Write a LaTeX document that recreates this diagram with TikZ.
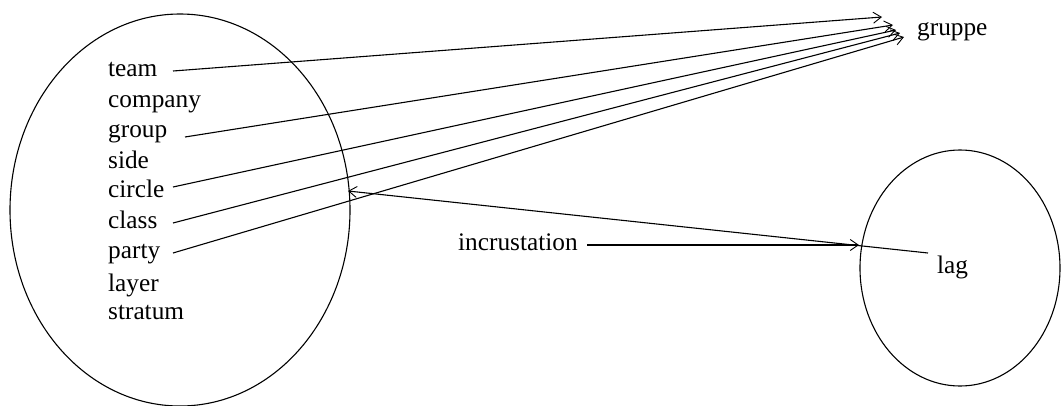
\documentclass[tikz,border=0pt]{standalone}
\usepackage{fontspec}
\setmainfont{Liberation Serif}
\usetikzlibrary{arrows.meta,shapes.geometric}
\begin{document}
\begin{tikzpicture}[x=1pt,y=-1pt,
  lbl/.style={anchor=base west,inner sep=0pt,font=\fontsize{25.3}{29}\selectfont},
  ring/.style={draw,ellipse,line width=1.1pt,inner sep=0pt},
  conn/.style={line width=1.1pt,-{Straight Barb[length=8pt,width=11pt,line width=0.9pt]}}]
\useasboundingbox (0,0) rectangle (1061,405);
% ellipses
\node[ring,minimum width=340pt,minimum height=392pt] (L) at (180,210) {};
\node[ring,minimum width=200pt,minimum height=236pt] (R) at (960,268) {};
% left labels
\node[lbl] (team) at (108,76) {team};
\node[lbl] (company) at (108,107) {company};
\node[lbl] (group) at (108,137) {group};
\node[lbl] (side) at (108,168) {side};
\node[lbl] (circle) at (108,197) {circle};
\node[lbl] (class) at (108,228) {class};
\node[lbl] (party) at (108,258) {party};
\node[lbl] (layer) at (108,291) {layer};
\node[lbl] (stratum) at (108,319) {stratum};
% right labels
\node[lbl] (gruppe) at (917,35) {gruppe};
\node[lbl] (incr) at (458,250) {incrustation};
\node[lbl] (lag) at (937,273) {lag};
% connector ends
\coordinate (sTeam) at (173,71);
\coordinate (sGroup) at (185,137);
\coordinate (sCircle) at (173,187);
\coordinate (sClass) at (173,223);
\coordinate (sParty) at (173,253);
\coordinate (eTeam) at (882,17);
\coordinate (eGroup) at (893,25);
\coordinate (eCircle) at (896,30);
\coordinate (eClass) at (900,33);
\coordinate (eParty) at (904,37);
\coordinate (sIncr) at (587,245);
\coordinate (eIncr) at (859,245);
\coordinate (sLag) at (928,253);
\coordinate (eLag) at (348,191);
% connectors
\draw[conn] (sTeam) -- (eTeam);
\draw[conn] (sGroup) -- (eGroup);
\draw[conn] (sCircle) -- (eCircle);
\draw[conn] (sClass) -- (eClass);
\draw[conn] (sParty) -- (eParty);
\draw[conn] (sIncr) -- (eIncr);
\draw[conn] (sLag) -- (eLag);
\end{tikzpicture}
\end{document}
